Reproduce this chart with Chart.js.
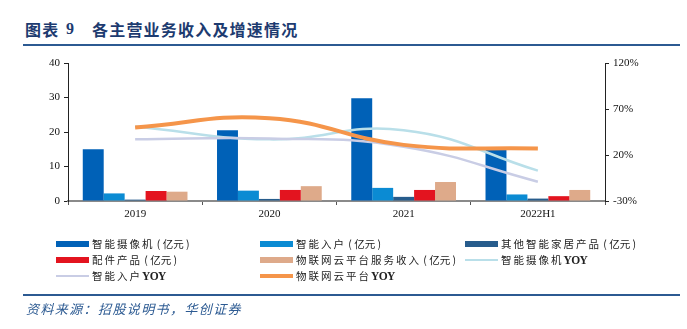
<!DOCTYPE html>
<html>
<head>
<meta charset="utf-8">
<script src="https://cdn.jsdelivr.net/npm/chart.js@4"></script>
<style>
  body { margin: 0; background: #fff; }
  #wrap { position: relative; width: 687px; height: 329px; overflow: hidden; }
  .title { position: absolute; top: 21px; font: bold 16px/16px "Noto Sans CJK SC"; color: #1d3b70; letter-spacing: 1.2px; white-space: nowrap; }
  .rule { position: absolute; left: 23px; width: 657px; height: 2px; background: #2c5a92; }
  #myChart { position: absolute; left: 0; top: 0; }
  #legend { position: absolute; left: 0; top: 0; }
  .item { position: absolute; height: 12px; font: 10.5px/12px "Noto Sans CJK SC"; color: #222; white-space: nowrap; letter-spacing: 2px; }
  .item i { position: absolute; left: 0; width: 33px; }
  .item .txt { position: absolute; left: 36px; top: 0; }
  .item .yoy { font: bold 11.5px/12px "Liberation Serif"; letter-spacing: -0.6px; }
  .item .unit { letter-spacing: 0; }
  #source { position: absolute; left: 26px; top: 302px; font: italic 13px/13px "Noto Sans CJK SC"; color: #2c5a92; letter-spacing: 1.4px; }
</style>
</head>
<body>
<div id="wrap">
  <div class="title" style="left:25px">图表</div>
  <div class="title" style="left:66px;font-family:'Liberation Serif'">9</div>
  <div class="title" style="left:92px">各主营业务收入及增速情况</div>
  <div class="rule" style="top:44px"></div>
  <canvas id="myChart" width="687" height="329"></canvas>
  <div id="legend"></div>
  <div class="rule" style="top:294px"></div>
  <div id="source">资料来源：招股说明书，华创证券</div>
</div>
<script>
let years = ["2019", "2020", "2021", "2022H1"];

// 收入（亿元）
let cameraRev = [15.0, 20.5, 29.8, 15.1];
let entryRev = [2.2, 3.0, 3.8, 1.9];
let otherRev = [0.4, 0.6, 1.2, 0.7];
let partsRev = [2.9, 3.2, 3.2, 1.4];
let cloudRev = [2.7, 4.3, 5.5, 3.2];

// 增速（%）
let cameraYoy = [51, 37, 47, 3];
let entryYoy = [37, 38, 29, -9];
let cloudYoy = [50, 60, 31, 27];

let leftTicks = [0, 10, 20, 30, 40];
let rightTicks = [-30, 20, 70, 120];

let seriesNames = ["智能摄像机（亿元）", "智能入户（亿元）", "其他智能家居产品（亿元）",
  "配件产品（亿元）", "物联网云平台服务收入（亿元）", "智能摄像机YOY",
  "智能入户YOY", "物联网云平台YOY"];
let seriesColors = ["#0061b7", "#0b8bd3", "#275c8c", "#e3141f", "#deaa8a", "#b9dfe9", "#c9cde5", "#f5954a"];

function bar(i, data) {
  return { type: 'bar', label: seriesNames[i], data: data, backgroundColor: seriesColors[i],
    yAxisID: 'y', order: 3, categoryPercentage: 0.78, barPercentage: 1 };
}
function line(i, data, w, ord) {
  return { type: 'line', label: seriesNames[i], data: data, borderColor: seriesColors[i],
    borderWidth: w, pointRadius: 0, tension: 0.45, yAxisID: 'y1', order: ord, fill: false };
}

const axisFont = { family: "Liberation Serif", size: 11 };

let ctx = document.getElementById('myChart').getContext('2d');
const myChart = new Chart(ctx, {
  data: {
    labels: years,
    datasets: [
      bar(0, cameraRev), bar(1, entryRev), bar(2, otherRev), bar(3, partsRev), bar(4, cloudRev),
      line(5, cameraYoy, 2.5, 2), line(6, entryYoy, 2.5, 1), line(7, cloudYoy, 4, 0)
    ]
  },
  options: {
    responsive: false,
    animation: false,
    layout: { padding: { left: 28, right: 32, top: 63, bottom: 108 } },
    plugins: { legend: { display: false }, tooltip: { enabled: false } },
    scales: {
      x: {
        afterFit: (s) => { s.height = 20; },
        grid: { drawOnChartArea: false, tickLength: 4, color: '#555' },
        border: { color: '#8a8a8a', width: 2 },
        ticks: { color: '#111', font: axisFont, padding: 3 }
      },
      y: {
        position: 'left', min: 0, max: 40,
        afterFit: (s) => { s.width = 40; },
        afterBuildTicks: (s) => { s.ticks = leftTicks.map(v => ({ value: v })); },
        grid: { drawOnChartArea: false, tickLength: 4, color: '#222' },
        border: { color: '#222', width: 1 },
        ticks: { color: '#111', font: axisFont, padding: 4 }
      },
      y1: {
        position: 'right', min: -30, max: 120,
        afterFit: (s) => { s.width = 50; },
        afterBuildTicks: (s) => { s.ticks = rightTicks.map(v => ({ value: v })); },
        grid: { drawOnChartArea: false, tickLength: 4, color: '#222' },
        border: { color: '#222', width: 1 },
        ticks: { color: '#111', font: axisFont, padding: 4, callback: (v) => v + '%' }
      }
    }
  }
});

// 图例：三列排布
let legendCols = [56, 260, 465];
let legendRows = [244, 260, 276];
let legendBox = document.getElementById('legend');
seriesNames.forEach((name, i) => {
  let isLine = i >= 5;
  let h = isLine ? (i == 7 ? 3.5 : 2.5) : 6;
  let label = name
    .replace('（亿元）', '<span class="unit">&nbsp;(&nbsp;亿元&nbsp;)</span>')
    .replace('YOY', '<span class="yoy">YOY</span>');
  let div = document.createElement('div');
  div.className = 'item';
  div.style.left = legendCols[i % 3] + 'px';
  div.style.top = (legendRows[Math.floor(i / 3)] - 6) + 'px';
  div.innerHTML = '<i style="background:' + seriesColors[i] + ';height:' + h + 'px;top:' + (6 - h / 2) + 'px"></i>' +
    '<span class="txt">' + label + '</span>';
  legendBox.appendChild(div);
});
</script>
</body>
</html>
